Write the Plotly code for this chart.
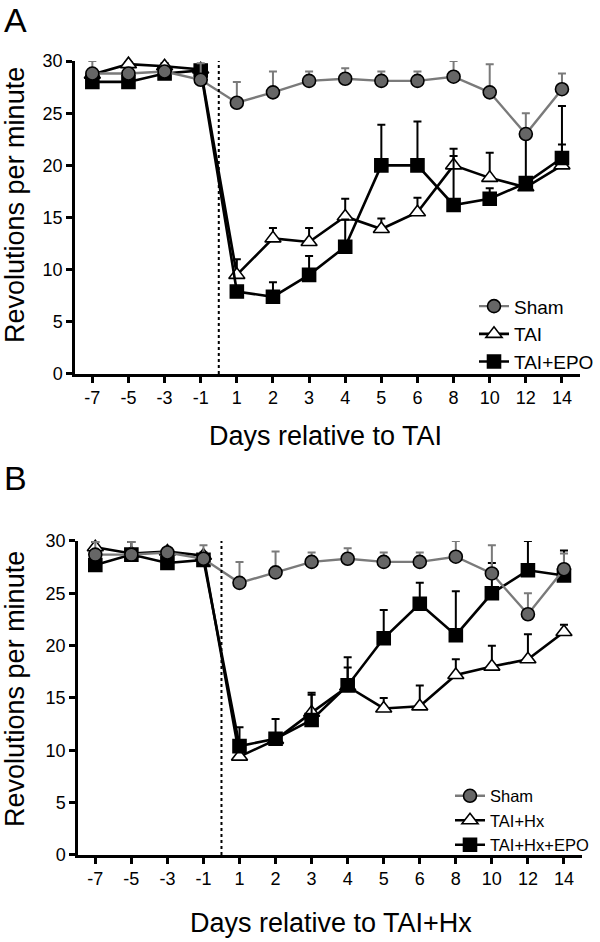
import plotly.graph_objects as go

# ---------------- data ----------------
days = ["-7", "-5", "-3", "-1", "1", "2", "3", "4", "5", "6", "8", "10", "12", "14"]

# Panel A
a_sham = [28.8, 28.8, 29.0, 28.2, 26.0, 27.0, 28.1, 28.3, 28.1, 28.1, 28.5, 27.0, 23.0, 27.3]
a_sham_err = [1.2, 0.2, 0.2, 1.6, 2.0, 2.0, 0.9, 1.0, 0.9, 0.9, 1.5, 2.7, 2.0, 1.5]
a_tai = [28.7, 29.7, 29.5, 29.2, 9.5, 13.0, 12.65, 15.1, 13.9, 15.5, 20.0, 18.8, 17.9, 20.0]
a_tai_err = [0.3, 0.3, 0.3, 0.4, 1.5, 1.0, 1.35, 1.7, 1.0, 1.4, 1.6, 2.4, 0.4, 2.0]
a_epo = [28.0, 28.0, 28.8, 29.1, 7.9, 7.4, 9.5, 12.2, 20.0, 20.0, 16.2, 16.8, 18.3, 20.7]
a_epo_err = [0.3, 0.3, 0.3, 0.5, 0.4, 1.4, 1.8, 2.6, 3.9, 4.2, 4.7, 1.0, 4.3, 5.0]

# Panel B
b_sham = [28.7, 28.7, 28.9, 28.3, 26.0, 27.0, 28.0, 28.3, 28.0, 28.0, 28.5, 26.9, 23.0, 27.3]
b_sham_err = [1.2, 1.2, 0.2, 1.3, 2.0, 2.0, 0.9, 1.0, 0.9, 0.9, 1.5, 2.7, 2.0, 1.5]
b_hx = [29.4, 28.8, 29.0, 28.6, 9.4, 11.0, 13.6, 16.1, 14.0, 14.2, 17.2, 18.0, 18.7, 21.3]
b_hx_err = [0.5, 0.3, 0.3, 0.3, 0.5, 0.5, 1.9, 1.8, 1.0, 2.0, 1.5, 2.0, 2.4, 0.7]
b_epo = [27.7, 28.7, 27.9, 28.2, 10.4, 11.1, 12.9, 16.2, 20.7, 24.0, 21.0, 25.0, 27.2, 26.7]
b_epo_err = [0.4, 1.2, 0.3, 0.5, 1.8, 1.9, 2.4, 2.7, 2.7, 2.0, 4.2, 2.9, 2.8, 2.4]
b_sig_days = ["6", "10", "12", "14"]

y_ticks = [0, 5, 10, 15, 20, 25, 30]

# ---------------- figure ----------------
FONT = "Liberation Sans, Arial, Helvetica, sans-serif"
GRAY_LINE = "#7a7a7a"
GRAY_FILL = "#666666"
xi = list(range(len(days)))

fig = go.Figure()


def add_series(y, err, name, sym, fill, line_col, xa, ya, legend, rank, err_col, lw):
    fig.add_trace(go.Scatter(
        x=xi, y=y, name=name, mode="lines+markers",
        xaxis=xa, yaxis=ya, legend=legend, legendrank=rank,
        cliponaxis=False,
        line=dict(color=line_col, width=lw),
        marker=dict(symbol=sym, size=13 if sym != "triangle-up" else 14,
                    color=fill, line=dict(color="black", width=1.6)),
        error_y=dict(type="data", symmetric=False, array=err,
                     arrayminus=[0] * len(err), color=err_col,
                     thickness=2, width=4),
    ))


# Panel A (draw order: TAI, TAI+EPO, Sham on top)
add_series(a_tai, a_tai_err, "TAI", "triangle-up", "white", "black", "x", "y", "legend", 2, "black", 2.6)
add_series(a_epo, a_epo_err, "TAI+EPO", "square", "black", "black", "x", "y", "legend", 3, "black", 2.6)
add_series(a_sham, a_sham_err, "Sham", "circle", GRAY_FILL, GRAY_LINE, "x", "y", "legend", 1, GRAY_LINE, 2.4)

# Panel B
add_series(b_hx, b_hx_err, "TAI+Hx", "triangle-up", "white", "black", "x2", "y2", "legend2", 2, "black", 2.6)
add_series(b_epo, b_epo_err, "TAI+Hx+EPO", "square", "black", "black", "x2", "y2", "legend2", 3, "black", 2.6)
add_series(b_sham, b_sham_err, "Sham", "circle", GRAY_FILL, GRAY_LINE, "x2", "y2", "legend2", 1, GRAY_LINE, 2.4)

xaxis_common = dict(
    tickmode="array", tickvals=xi, ticktext=days,
    range=[-0.48, 13.5], showgrid=False, zeroline=False,
    showline=True, linecolor="black", linewidth=2.5,
    ticks="outside", ticklen=6, tickwidth=2.5, tickcolor="black",
    tickfont=dict(family=FONT, size=18, color="black"),
    fixedrange=True, automargin=False,
)
yaxis_common = dict(
    tickmode="array", tickvals=y_ticks,
    range=[0, 30], showgrid=False, zeroline=False,
    showline=True, linecolor="black", linewidth=2.5,
    ticks="outside", ticklen=6, tickwidth=2.5, tickcolor="black",
    tickfont=dict(family=FONT, size=18, color="black"),
    fixedrange=True, automargin=False,
)

fig.update_layout(
    width=600, height=942,
    margin=dict(l=0, r=0, t=0, b=0, autoexpand=False),
    paper_bgcolor="white", plot_bgcolor="white",
    font=dict(family=FONT, color="black"),
    xaxis=dict(domain=[0.125, 0.9667], anchor="y", **xaxis_common),
    yaxis=dict(domain=[0.6030, 0.9352], anchor="x", **yaxis_common),
    xaxis2=dict(domain=[0.13, 0.97], anchor="y2", **xaxis_common),
    yaxis2=dict(domain=[0.0924, 0.4257], anchor="x2", **yaxis_common),
    legend=dict(x=0.79, y=0.695, xanchor="left", yanchor="top",
                font=dict(family=FONT, size=19, color="black"),
                bgcolor="rgba(0,0,0,0)", itemwidth=30, tracegroupgap=0),
    legend2=dict(x=0.75, y=0.1735, xanchor="left", yanchor="top",
                 font=dict(family=FONT, size=16.5, color="black"),
                 bgcolor="rgba(0,0,0,0)", itemwidth=30, tracegroupgap=0),
    showlegend=True,
)

# dotted vertical lines between day -1 and day 1
fig.add_shape(type="line", xref="x", yref="y", x0=3.5, x1=3.5, y0=0, y1=31.8,
              line=dict(color="black", width=2, dash="dot"))
fig.add_shape(type="line", xref="x2", yref="y2", x0=3.5, x1=3.5, y0=0, y1=31.3,
              line=dict(color="black", width=2, dash="dot"))


def note(text, x, y, size, xref="paper", yref="paper", angle=0):
    return dict(text=text, xref=xref, yref=yref, x=x, y=y, textangle=angle,
                xanchor="center", yanchor="middle", showarrow=False,
                font=dict(size=size, family=FONT, color="black"))


ann = [
    note("A", 0.025, 0.979, 34),
    note("B", 0.025, 0.4926, 34),
    note("<b>TAI</b>", 3.5, 33.2, 19, "x", "y"),
    note("<b>TAI+Hx</b>", 3.5, 33.4, 19, "x2", "y2"),
    note("Revolutions per minute", 0.025, 0.7824, 27, angle=-90),
    note("Revolutions per minute", 0.025, 0.2686, 27, angle=-90),
    note("Days relative to TAI", 0.543, 0.537, 27),
    note("Days relative to TAI+Hx", 0.552, 0.0202, 27),
]
for d in b_sig_days:
    ann.append(note("*", days.index(d), 31.6, 20, "x2", "y2"))
fig.update_layout(annotations=ann)

fig.write_html(
    "out.html",
    config={"displayModeBar": False},
    post_script="document.body.style.margin='0';document.body.style.overflow='hidden';",
)
